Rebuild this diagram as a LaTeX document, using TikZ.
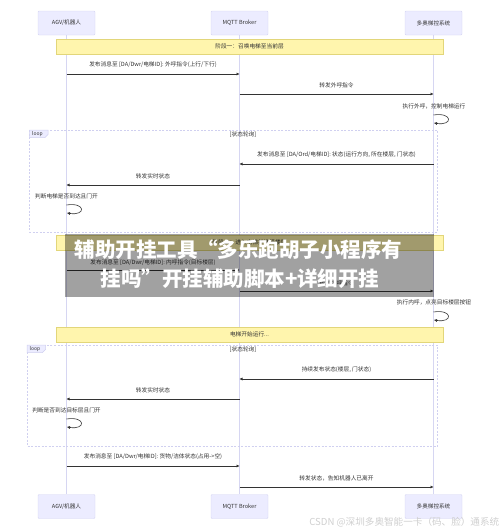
\documentclass[tikz,border=0pt]{standalone}
\usepackage{fontspec}
\newfontfamily\cjk{Noto Sans CJK SC}
\usetikzlibrary{arrows.meta}
\definecolor{actorfill}{HTML}{ECECFF}
\definecolor{actorline}{HTML}{D4D4F2}
\definecolor{lifec}{HTML}{D6D6F2}
\definecolor{notefill}{HTML}{FFF5AD}
\definecolor{noteline}{HTML}{E2D67A}
\definecolor{txt}{HTML}{333333}
\definecolor{arrowc}{HTML}{333333}
\definecolor{framec}{HTML}{D0D0F0}
\definecolor{wmark}{HTML}{CFCFCF}
\begin{document}
\begin{tikzpicture}[x=1pt,y=-1pt,
  actor/.style={draw=actorline, fill=actorfill, minimum width=57pt, minimum height=24pt,
    font=\cjk\fontsize{5.6}{6}\selectfont, text=txt, rounded corners=1pt, line width=0.4pt, inner sep=0pt},
  notebox/.style={draw=noteline, fill=notefill, minimum width=387pt, minimum height=15pt,
    font=\cjk\fontsize{5.7}{6}\selectfont, text=txt, line width=0.5pt, inner sep=0pt},
  lbl/.style={font=\cjk\fontsize{5.7}{6}\selectfont, text=txt, inner sep=0pt},
  msg/.style={draw=arrowc, line width=0.6pt, -{Triangle[length=3pt,width=2.6pt]}},
  lifeline/.style={draw=lifec, line width=0.8pt},
  frame/.style={draw=framec, dash pattern=on 2pt off 1.5pt, line width=0.5pt},
  tag/.style={draw=framec, fill=actorfill, line width=0.5pt},
  banner/.style={font=\cjk\bfseries\fontsize{20.5}{22}\selectfont, text=white, inner sep=0pt}
]
\useasboundingbox (0,0) rectangle (500,531);

% actors
\node[actor] (a1) at (66.5,23) {AGV/机器人};
\node[actor] (b1) at (239.5,23) {MQTT Broker};
\node[actor] (c1) at (433.5,23) {多奥梯控系统};
\node[actor] (a2) at (66.5,506.5) {AGV/机器人};
\node[actor] (b2) at (239.5,506.5) {MQTT Broker};
\node[actor] (c2) at (433.5,506.5) {多奥梯控系统};

% lifelines
\draw[lifeline] (a1.south) -- (a2.north);
\draw[lifeline] (b1.south) -- (b2.north);
\draw[lifeline] (c1.south) -- (c2.north);

% loop frames
\draw[frame] (29.5,130) rectangle (437.5,232);
\draw[tag] (29.5,130) -- (48,130) -- (48,134.5) -- (45,137.5) -- (29.5,137.5) -- cycle;
\node[lbl, font=\cjk\fontsize{5}{6}\selectfont] (loopA) at (37.5,133.8) {loop};
\node[lbl] (condA) at (243,135) {[状态轮询]};

\draw[frame] (27,345) rectangle (437.5,446);
\draw[tag] (27,345) -- (45.5,345) -- (45.5,349.5) -- (42.5,352.5) -- (27,352.5) -- cycle;
\node[lbl, font=\cjk\fontsize{5}{6}\selectfont] (loopB) at (35,348.8) {loop};
\node[lbl] (condB) at (243,349.5) {[状态轮询]};

% notes
\node[notebox] (n1) at (249.5,46.5) {阶段一：召唤电梯至当前层};
\node[notebox] (n2) at (249.5,242.5) {阶段二：进入电梯并选择楼层};
\node[notebox] (n3) at (249.5,334.5) {电梯开始运行...};

% coordinates on lifelines
\coordinate (p1a) at (66.5,74);  \coordinate (p1b) at (239.5,74);
\coordinate (p2a) at (239.5,94); \coordinate (p2b) at (433.5,94);
\coordinate (s1a) at (433.5,115); \coordinate (s1b) at (434,123);
\coordinate (p3a) at (433.5,164); \coordinate (p3b) at (239.5,164);
\coordinate (p4a) at (239.5,185); \coordinate (p4b) at (66.5,185);
\coordinate (s2a) at (66.5,205); \coordinate (s2b) at (67,213);
\coordinate (p5a) at (66.5,270); \coordinate (p5b) at (239.5,270);
\coordinate (p6a) at (239.5,291); \coordinate (p6b) at (433.5,291);
\coordinate (s3a) at (433.5,312); \coordinate (s3b) at (434,320);
\coordinate (p7a) at (433.5,379); \coordinate (p7b) at (239.5,379);
\coordinate (p8a) at (239.5,399); \coordinate (p8b) at (66.5,399);
\coordinate (s4a) at (66.5,419); \coordinate (s4b) at (67,427);
\coordinate (p9a) at (66.5,466); \coordinate (p9b) at (239.5,466);
\coordinate (p10a) at (239.5,487); \coordinate (p10b) at (433.5,487);

% messages
\node[lbl] (l1) at (153,65) {发布消息至 [DA/Dwr/电梯ID]: 外呼指令(上行/下行)};
\draw[msg] (p1a) -- (p1b);
\node[lbl] (l2) at (336.5,85.5) {转发外呼指令};
\draw[msg] (p2a) -- (p2b);
\node[lbl] (l3) at (434,106) {执行外呼，控制电梯运行};
\draw[msg] (s1a) .. controls (453,112) and (453,126) .. (s1b);

\node[lbl] (l4) at (336.5,155) {发布消息至 [DA/Ord/电梯ID]: 状态(运行方向, 所在楼层, 门状态)};
\draw[msg] (p3a) -- (p3b);
\node[lbl] (l5) at (153,176) {转发实时状态};
\draw[msg] (p4a) -- (p4b);
\node[lbl] (l6) at (66.5,196) {判断电梯是否到达且门开};
\draw[msg] (s2a) .. controls (86,202) and (86,216) .. (s2b);

\node[lbl] (l7) at (153,263) {发布消息至 [DA/Dwr/电梯ID]: 内呼指令(目标楼层)};
\draw[msg] (p5a) -- (p5b);
\node[lbl] (l8) at (336.5,283) {转发内呼指令};
\draw[msg] (p6a) -- (p6b);
\node[lbl] (l9) at (434,302) {执行内呼，点亮目标楼层按钮};
\draw[msg] (s3a) .. controls (453,309) and (453,323) .. (s3b);

\node[lbl] (l10) at (336.5,369.5) {持续发布状态(楼层, 门状态)};
\draw[msg] (p7a) -- (p7b);
\node[lbl] (l11) at (153,390) {转发实时状态};
\draw[msg] (p8a) -- (p8b);
\node[lbl] (l12) at (66.5,410.5) {判断是否到达目标层且门开};
\draw[msg] (s4a) .. controls (86,416) and (86,430) .. (s4b);

\node[lbl] (l13) at (153,457) {发布消息至 [DA/Dwr/电梯ID]: 货物/洁体状态(占用->空)};
\draw[msg] (p9a) -- (p9b);
\node[lbl] (l14) at (336.5,478) {转发状态，告知机器人已离开};
\draw[msg] (p10a) -- (p10b);

% overlay banner
\fill[black, opacity=0.37] (65,234) rectangle (434,297);
\node[banner] (t1) at (238.5,250) {辅助开挂工具“多乐跑胡子小程序有};
\node[banner] (t2) at (240,279) {挂吗”开挂辅助脚本+详细开挂};

% watermark
\node[lbl, anchor=east, text=wmark, font=\cjk\fontsize{9.6}{10}\selectfont] (wm) at (499.5,522) {CSDN @深圳多奥智能一卡（码、脸）通系统};
\end{tikzpicture}
\end{document}
